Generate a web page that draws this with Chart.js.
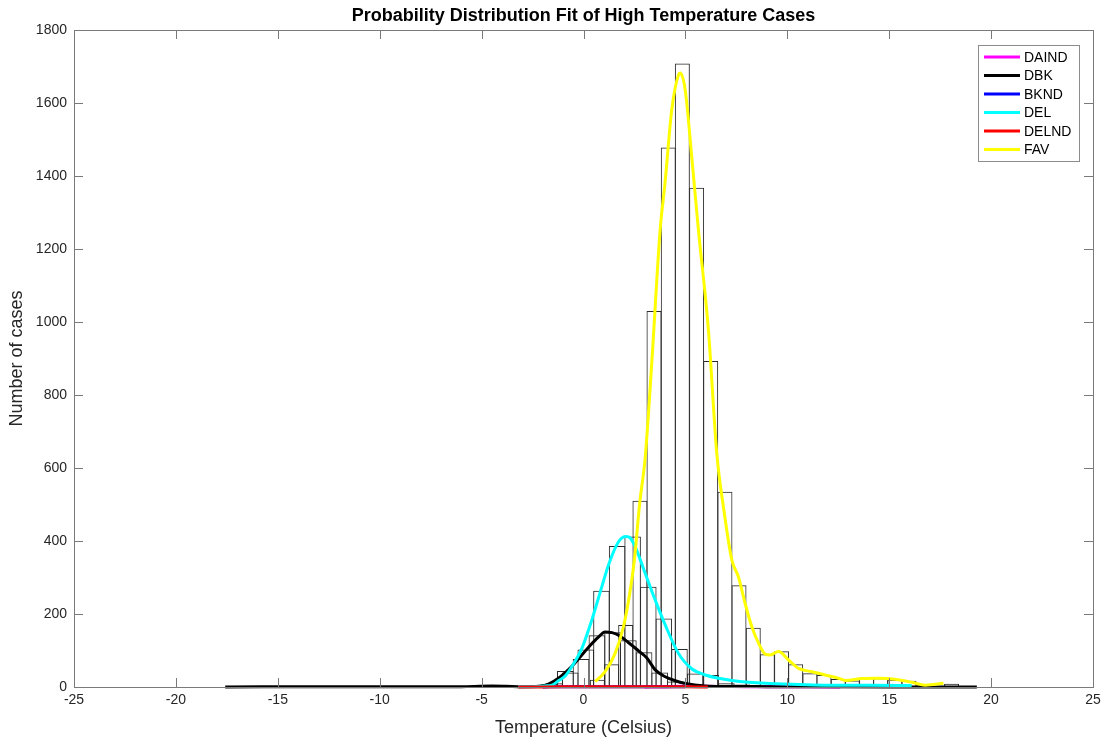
<!DOCTYPE html>
<html>
<head>
<meta charset="utf-8">
<script src="https://cdn.jsdelivr.net/npm/chart.js@4.4.0/dist/chart.umd.min.js"></script>
<style>
html,body{margin:0;padding:0;background:#fff;}
#wrap{width:1106px;height:739px;position:relative;}
</style>
</head>
<body>
<div id="wrap"><canvas id="c" width="1106" height="739"></canvas></div>
<script>
// ---------- text ----------
const titleText = 'Probability Distribution Fit of High Temperature Cases';
const xAxisLabel = 'Temperature (Celsius)';
const yAxisLabel = 'Number of cases';
const xTickValues = [-25, -20, -15, -10, -5, 0, 5, 10, 15, 20, 25];
const yTickValues = [0, 200, 400, 600, 800, 1000, 1200, 1400, 1600, 1800];
const seriesNames = ['DAIND', 'DBK', 'BKND', 'DEL', 'DELND', 'FAV'];

// ---------- histograms (bin centre, count) ----------
const favBinCenters = [-0.01, 0.68, 1.38, 2.07, 2.77, 3.46, 4.16, 4.85, 5.55, 6.24, 6.94, 7.63, 8.33, 9.02, 9.72, 10.41, 11.11, 11.80, 12.50, 13.19, 13.89, 14.58, 15.28, 15.97, 16.67, 17.36, 18.06];
const favCounts     = [5, 20, 62, 170, 510, 1030, 1478, 1708, 1368, 893, 535, 279, 162, 90, 98, 62, 38, 33, 22, 18, 26, 24, 20, 17, 5, 3, 9];

const delBinCenters = [-2.19, -1.42, -0.65, 0.11, 0.88, 1.65, 2.41, 3.18, 3.94, 4.71, 5.48, 6.24, 7.01, 7.77, 8.54, 9.31, 10.07, 10.84, 11.61, 12.37, 13.14, 13.90, 14.67, 15.44];
const delCounts     = [2, 10, 40, 103, 264, 386, 412, 275, 188, 104, 37, 33, 10, 7, 5, 5, 4, 3, 3, 2, 2, 2, 2, 1];

const dbkBinCenters = [-2.43, -1.66, -0.89, -0.12, 0.66, 1.43, 2.20, 2.97, 3.74, 4.51, 5.28, 6.05];
const dbkCounts     = [2, 8, 44, 77, 142, 150, 128, 95, 40, 15, 5, 2];

// ---------- fitted curves ----------
const daindX = [3.0, 4.0, 5.0, 6.0, 7.0, 8.0, 9.0, 10.0, 11.0, 12.6];
const daindY = [0.3, 1, 2, 2, 1.5, 1, 1, 0.5, 0.5, 0.2];

const dbkX = [-17.58, -12, -8, -6, -4.5, -3.8, -3, -2.2, -1.72, -1.23, -0.57, 0.25, 0.7, 1.06, 1.4, 1.72, 2.2, 2.7, 3.1, 3.52, 4.01, 4.5, 4.99, 5.97, 7, 9, 12, 16, 19.3];
const dbkY = [0.3, 0.5, 0.5, 1, 2.5, 2, 1, 2, 8, 24, 57, 109, 135, 151, 149, 142, 122, 99, 80, 47, 28, 17, 10, 3, 1.5, 1, 0.5, 0.3, 0.2];

const bkndX = [-2.0, -1.0, 0.0, 1.0, 2.0, 3.0, 4.0, 5.0];
const bkndY = [0.3, 0.5, 0.8, 1.0, 1.0, 1.0, 0.8, 0.4];

const delX = [-3.2, -2.5, -1.88, -1.55, -1.23, -0.9, -0.57, -0.08, 0.41, 0.9, 1.23, 1.72, 2.09, 2.3, 2.54, 3.03, 3.52, 4.01, 4.66, 5.31, 5.64, 5.97, 6.62, 7.28, 8.1, 8.92, 10.55, 12, 14, 16.1];
const delY = [0.5, 1, 3, 5, 17, 30, 56, 106, 184, 275, 335, 398, 412, 408, 384, 311, 238, 170, 92, 50, 40, 33, 24, 18, 13, 10, 7, 5, 5, 4];

const delndX = [-3.2, -2.0, -1.0, 0.0, 1.0, 2.0, 3.0, 4.0, 5.0, 6.1];
const delndY = [0.2, 0.3, 0.5, 0.8, 1.0, 1.0, 1.0, 0.8, 0.4, 0.2];

const favX = [0.57, 1.06, 1.55, 1.96, 2.25, 2.5, 2.75, 3.03, 3.35, 3.76, 4.0, 4.33, 4.66, 4.75, 4.99, 5.31, 5.64, 6.13, 6.54, 6.9, 7.28, 7.6, 7.93, 8.26, 8.59, 8.92, 9.15, 9.57, 10.06, 10.55, 11.2, 11.86, 12.51, 12.84, 13.66, 14.48, 15.29, 16.11, 16.77, 17.66];
const favY = [15, 42, 92, 165, 250, 350, 500, 630, 888, 1252, 1381, 1581, 1677, 1682, 1636, 1453, 1252, 978, 640, 480, 348, 302, 229, 165, 120, 90, 88, 97, 74, 51, 42, 33, 24, 18, 23, 24, 21, 13, 5, 10];

// ---------- styling ----------
const FONT = '"Liberation Sans", Arial, Helvetica, sans-serif';
const TEXT_COLOR = '#262626';
const AXIS_COLOR = '#7a7a7a';
const seriesColors = {DAIND: '#ff00ff', DBK: '#000000', BKND: '#0000ff', DEL: '#00ffff', DELND: '#ff0000', FAV: '#ffff00'};

function pts(xs, ys) { return xs.map((x, i) => ({x: x, y: ys[i]})); }

function curve(name, xs, ys, order) {
  return {
    type: 'line', label: name, data: pts(xs, ys),
    borderColor: seriesColors[name], backgroundColor: seriesColors[name],
    borderWidth: 3, pointRadius: 0, pointHoverRadius: 0, fill: false,
    cubicInterpolationMode: 'monotone', order: order,
    xAxisID: 'x', yAxisID: 'y', clip: 4
  };
}
function hist(label, xs, ys, axisId, order) {
  return {
    type: 'bar', label: label, data: pts(xs, ys),
    xAxisID: axisId, yAxisID: 'y',
    backgroundColor: 'rgba(0,0,0,0)', borderColor: '#2b2b2b', borderWidth: 1,
    barPercentage: 1.068, categoryPercentage: 1, grouped: false, order: order
  };
}

const hiddenX = () => ({type: 'linear', display: false, offset: false, min: -25, max: 25, ticks: {stepSize: 5}, grid: {offset: false}});

const frame = {
  id: 'frame',
  afterDraw(chart) {
    const ctx = chart.ctx;
    const {left, right, top, bottom} = chart.chartArea;
    const xs = chart.scales.x, ys = chart.scales.y;
    ctx.save();
    ctx.strokeStyle = AXIS_COLOR;
    ctx.lineWidth = 1;
    ctx.strokeRect(Math.round(left) + 0.5, Math.round(top) + 0.5, Math.round(right - left), Math.round(bottom - top));
    const TL = 9;
    ctx.beginPath();
    xTickValues.forEach(v => {
      const px = Math.round(xs.getPixelForValue(v)) + 0.5;
      ctx.moveTo(px, bottom); ctx.lineTo(px, bottom - TL);
      ctx.moveTo(px, top); ctx.lineTo(px, top + TL);
    });
    yTickValues.forEach(v => {
      const py = Math.round(ys.getPixelForValue(v)) + 0.5;
      ctx.moveTo(left, py); ctx.lineTo(left + TL, py);
      ctx.moveTo(right, py); ctx.lineTo(right - TL, py);
    });
    ctx.stroke();

    // legend
    const bx = 978.5, by = 45.5, bw = 101, bh = 116;
    ctx.fillStyle = '#ffffff';
    ctx.fillRect(bx, by, bw, bh);
    ctx.strokeStyle = '#8c8c8c';
    ctx.strokeRect(bx, by, bw, bh);
    ctx.font = '14px ' + FONT;
    ctx.textBaseline = 'middle';
    ctx.textAlign = 'left';
    seriesNames.forEach((n, i) => {
      const y = 57 + i * 18.5;
      ctx.strokeStyle = seriesColors[n];
      ctx.lineWidth = 3;
      ctx.beginPath(); ctx.moveTo(984, y); ctx.lineTo(1020, y); ctx.stroke();
      ctx.fillStyle = '#000000';
      ctx.fillText(n, 1024, y + 1);
    });
    ctx.restore();
  }
};

new Chart(document.getElementById('c'), {
  type: 'bar',
  data: {
    datasets: [
      curve('DAIND', daindX, daindY, 6),
      curve('DBK', dbkX, dbkY, 5),
      curve('BKND', bkndX, bkndY, 4),
      curve('DEL', delX, delY, 3),
      curve('DELND', delndX, delndY, 2),
      curve('FAV', favX, favY, 1),
      hist('FAV histogram', favBinCenters, favCounts, 'xFav', 10),
      hist('DEL histogram', delBinCenters, delCounts, 'xDel', 11),
      hist('DBK histogram', dbkBinCenters, dbkCounts, 'xDbk', 12)
    ]
  },
  options: {
    responsive: false,
    animation: false,
    devicePixelRatio: 1,
    layout: {padding: {left: 0, right: 13, top: 0, bottom: 0}},
    plugins: {
      legend: {display: false},
      tooltip: {enabled: false},
      title: {
        display: true, text: titleText, fullSize: false,
        font: {family: FONT, size: 18, weight: 'bold'}, color: '#000000',
        padding: {top: 5, bottom: 3.4}
      }
    },
    scales: {
      x: {
        type: 'linear', min: -25, max: 25, position: 'bottom', offset: false,
        afterBuildTicks: s => { s.ticks = xTickValues.map(v => ({value: v})); },
        afterFit: s => { s.height = 52; },
        ticks: {callback: v => String(v), font: {family: FONT, size: 14}, color: TEXT_COLOR, padding: 5, maxRotation: 0, autoSkip: false},
        grid: {display: false, drawTicks: false, offset: false},
        border: {display: false},
        title: {display: true, text: xAxisLabel, font: {family: FONT, size: 18}, color: TEXT_COLOR, padding: {top: 0, bottom: 0}}
      },
      xFav: hiddenX(),
      xDel: hiddenX(),
      xDbk: hiddenX(),
      y: {
        type: 'linear', min: 0, max: 1800, position: 'left',
        afterBuildTicks: s => { s.ticks = yTickValues.map(v => ({value: v})); },
        afterFit: s => { s.width = 74; },
        ticks: {callback: v => String(v), font: {family: FONT, size: 14}, color: TEXT_COLOR, padding: 7, autoSkip: false},
        grid: {display: false, drawTicks: false},
        border: {display: false},
        title: {display: true, text: yAxisLabel, font: {family: FONT, size: 18}, color: TEXT_COLOR, padding: {top: 6, bottom: 0}}
      }
    }
  },
  plugins: [frame]
});
</script>
</body>
</html>
